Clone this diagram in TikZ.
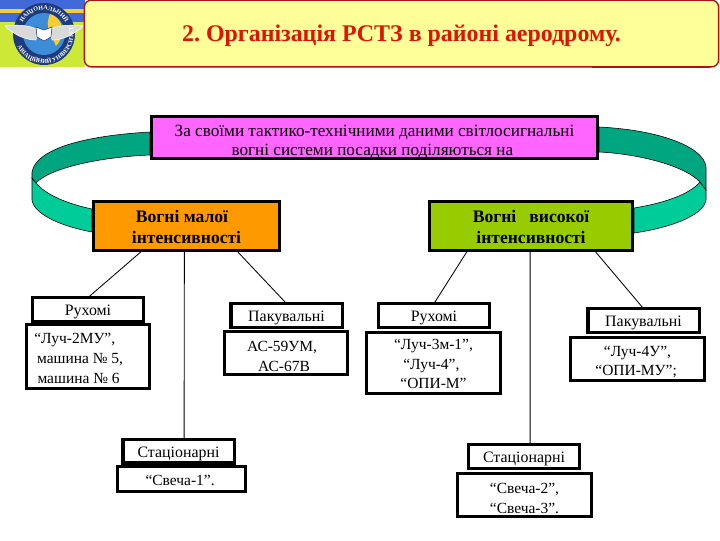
\documentclass[tikz,border=0pt]{standalone}
\usepackage{fontspec}
\setmainfont{Liberation Serif}
\usetikzlibrary{decorations.text}
\definecolor{pinkbox}{RGB}{255,102,255}
\definecolor{orangebox}{RGB}{255,153,0}
\definecolor{greenbox}{RGB}{153,204,0}
\definecolor{bandlight}{RGB}{0,204,153}
\definecolor{banddark}{RGB}{0,166,128}
\definecolor{titlefill}{RGB}{255,255,153}
\definecolor{titleedge}{RGB}{170,20,20}
\definecolor{titletext}{RGB}{220,20,0}
\definecolor{logonavy}{RGB}{30,60,125}
\definecolor{logosky}{RGB}{60,140,215}
\definecolor{logotop}{RGB}{65,105,215}
\definecolor{logoyellow}{RGB}{245,205,50}
\definecolor{logolime}{RGB}{205,232,55}
\newcommand{\lowerby}[1]{\rule{0pt}{#1}}
\tikzset{
  box/.style={draw,line width=2.2pt,outer sep=0pt,inner sep=0pt,align=center,fill=white,font=\fontsize{11}{14}\selectfont},
  headbox/.style={box,font=\fontsize{12.5}{15}\selectfont\bfseries},
  kindbox/.style={box,minimum width=79pt,minimum height=17pt,text height=9.2pt,text depth=0pt,font=\fontsize{11.3}{14}\selectfont},
  link/.style={line width=0.6pt},
  band/.style={draw,line width=0.4pt},
  ringtext/.style={decorate,decoration={text along path,text align=center,text color=white,text={|\fontsize{4.3}{5}\selectfont\bfseries|#1}}}
}
\begin{document}
\begin{tikzpicture}[x=0.025cm,y=-0.025cm]
\useasboundingbox (0,0) rectangle (720,540);
% emblem
\fill[logolime] (0,0) rectangle (85,67);
\fill[logotop] (0,0) rectangle (85,22);
\fill[logoyellow] (0,9) rectangle (85,13);
\fill[logonavy] (44,34) circle (31);
\fill[logosky] (44,34) circle (21);
\fill[logoyellow] (50,14) .. controls (64,18) and (66,36) .. (56,46) .. controls (52,36) and (44,28) .. (50,14);
\fill[gray!30,draw=white] (5,26) .. controls (20,24) and (32,26) .. (38,30) -- (36,40) .. controls (26,40) and (14,35) .. (5,26);
\fill[gray!30,draw=white] (83,26) .. controls (68,24) and (54,26) .. (50,30) -- (52,40) .. controls (62,40) and (74,35) .. (83,26);
\fill[white,draw=logonavy] (36,27) -- (44,30) -- (52,27) -- (51,37) -- (44,41) -- (37,37) -- cycle;
\path[ringtext={НАЦІОНАЛЬНИЙ}] (44,34) ++ (190:24) arc[start angle=190,end angle=350,radius=24];
\path[ringtext={АВІАЦІЙНИЙ УНІВЕРСИТЕТ}] (44,34) ++ (175:29.5) arc[start angle=175,end angle=-35,radius=29.5];
% title
\node[draw=titleedge,fill=titlefill,line width=1pt,rounded corners=5pt,outer sep=0pt,minimum width=451pt,minimum height=47.5pt,font=\fontsize{17}{20}\selectfont\bfseries\frenchspacing,text=titletext] (title) at(401.5,33.5){\lowerby{14.5pt}2. Організація РСТЗ в районі аеродрому.};
\draw[titleedge,line width=1.6pt] (title.south) ++ (190,0) -- ++ (118,0);
% ribbon, left side
\coordinate (lefttop) at (150,132);
\coordinate (leftlow) at (150,155);
\coordinate (righttop) at (599,127);
\coordinate (rightlow) at (599,152);
\draw[band,fill=bandlight] (36,183) .. controls (46,195) and (68,204) .. (92,209) -- (92,232) .. controls (60,226) and (34,214) .. (32,200) -- (32,178) -- cycle;
\draw[band,fill=banddark] (lefttop) .. controls (80,136) and (36,150) .. (32,172) -- (32,178) -- (36,183) .. controls (50,168) and (100,157) .. (leftlow) -- cycle;
% ribbon, right side
\draw[band,fill=bandlight] (700,182) .. controls (690,194) and (665,203) .. (634,208) -- (634,233) .. controls (675,227) and (704,214) .. (706,200) -- (706,190) -- cycle;
\draw[band,fill=banddark] (righttop) .. controls (660,130) and (704,147) .. (706,167) -- (706,190) -- (700,182) .. controls (685,166) and (640,154) .. (rightlow) -- cycle;
% top boxes
\node[box,fill=pinkbox,minimum width=317pt,minimum height=30pt,font=\fontsize{12.2}{13.5}\selectfont] (basis) at(374.5,137.5){\lowerby{13.8pt}За своїми тактико-технічними даними світлосигнальні\\\hspace*{-3pt}вогні системи посадки поділяються на};
\node[headbox,fill=orangebox,minimum width=132pt,minimum height=34.5pt] (lowint) at(186.5,226){\lowerby{10pt}\hspace*{-6.4pt}Вогні малої\\інтенсивності};
\node[headbox,fill=greenbox,minimum width=144pt,minimum height=34.5pt] (highint) at(531,226){\lowerby{10pt}Вогні \ \ високої\\інтенсивності};
% low intensity
\node[kindbox] (lowmove) at(88,309.5){Рухомі};
\node[box,minimum width=87.5pt,minimum height=45.5pt] (lowmovelist) at(88,356.5){\lowerby{10.3pt}\hspace*{-18.8pt}“Луч-2МУ”,\\\hspace*{-11.3pt}машина № 5,\\\hspace*{-13.4pt}машина № 6};
\node[kindbox] (lowpack) at(286.5,315.5){Пакувальні};
\node[box,minimum width=87.5pt,minimum height=31pt] (lowpacklist) at(286,353){\lowerby{11.8pt}\hspace*{-5.6pt}АС-59УМ,\\\hspace*{-2.8pt}АС-67В};
\node[kindbox] (lowfix) at(178.5,451){Стаціонарні};
\node[box,minimum width=91pt,minimum height=18pt] (lowfixlist) at(181.5,479){\lowerby{9.6pt}\hspace*{-2pt}“Свеча-1”.};
% high intensity
\node[kindbox] (highmove) at(434,315.5){Рухомі};
\node[box,minimum width=95.5pt,minimum height=44pt] (highmovelist) at(433.5,363){\lowerby{8.9pt}“Луч-3м-1”,\\\hspace*{-3pt}“Луч-4”,\\“ОПИ-М”};
\node[kindbox] (highpack) at(643.5,320.5){Пакувальні};
\node[box,minimum width=95.5pt,minimum height=31pt] (highpacklist) at(637.5,359){\lowerby{11.8pt}“Луч-4У”,\\\hspace*{-2pt}“ОПИ-МУ”;};
\node[kindbox] (highfix) at(524,456.5){Стаціонарні};
\node[box,minimum width=95.5pt,minimum height=31pt] (highfixlist) at(524.5,495){\lowerby{11.8pt}“Свеча-2”,\\“Свеча-3”.};
% links
\draw[link] (lowint.209.2) -- (lowmove.north);
\draw[link] (lowint.-95.9) -- (lowfix.65.4);
\draw[link] (lowint.-26.1) -- (lowpack.north);
\draw[link] (highint.-159.2) -- (highmove.north);
\draw[link] (highint.-92.4) -- (highfix.63.4);
\draw[link] (highint.-21.4) -- (highpack.north);
\end{tikzpicture}
\end{document}
